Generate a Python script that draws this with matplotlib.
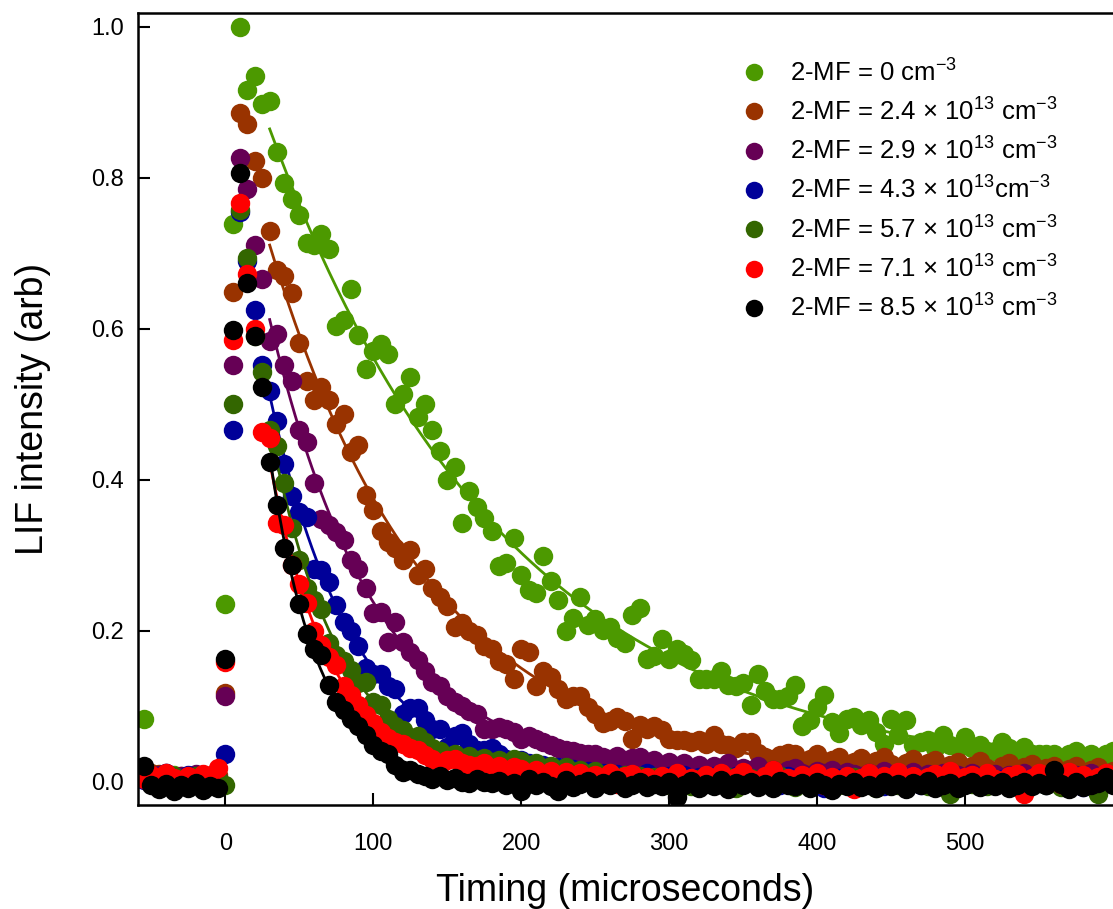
import numpy as np
import matplotlib
matplotlib.use("Agg")
import matplotlib.pyplot as plt

plt.rcParams['font.family'] = ['Liberation Sans', 'DejaVu Sans']
plt.rcParams['mathtext.fontset'] = 'custom'
plt.rcParams['mathtext.rm'] = 'Liberation Sans'

# timing axis, microseconds (sampled every 5 us from -55 to 600)
timing = np.arange(-55, 605, 5)

# LIF signal for each 2-MF density (12 values per row = 60 us)
mf_0 = [0.083, 0.004, 0.007, 0.002, 0.009, 0.003, 0.006, 0.001, 0.008, 0.004, 0.002, 0.235,
        0.738, 1.000, 0.916, 0.935, 0.897, 0.902, 0.834, 0.793, 0.771, 0.750, 0.713, 0.711,
        0.725, 0.705, 0.603, 0.612, 0.653, 0.591, 0.547, 0.570, 0.580, 0.566, 0.500, 0.514,
        0.536, 0.483, 0.500, 0.466, 0.438, 0.400, 0.417, 0.342, 0.385, 0.364, 0.349, 0.332,
        0.285, 0.289, 0.322, 0.274, 0.254, 0.250, 0.299, 0.266, 0.241, 0.199, 0.217, 0.244,
        0.208, 0.215, 0.201, 0.205, 0.190, 0.183, 0.221, 0.230, 0.163, 0.167, 0.189, 0.163,
        0.176, 0.169, 0.161, 0.136, 0.136, 0.136, 0.146, 0.128, 0.126, 0.130, 0.102, 0.142,
        0.120, 0.109, 0.109, 0.113, 0.128, 0.073, 0.082, 0.099, 0.115, 0.079, 0.064, 0.083,
        0.086, 0.075, 0.082, 0.066, 0.050, 0.083, 0.062, 0.081, 0.049, 0.053, 0.055, 0.044,
        0.062, 0.049, 0.044, 0.059, 0.044, 0.049, 0.040, 0.040, 0.053, 0.044, 0.034, 0.046,
        0.037, 0.037, 0.036, 0.037, 0.030, 0.036, 0.040, 0.032, 0.036, -0.013, 0.036, 0.040]

mf_24 = [0.004, 0.012, 0.010, 0.006, 0.003, 0.008, 0.005, 0.002, 0.007, 0.004, 0.009, 0.118,
         0.648, 0.886, 0.871, 0.822, 0.800, 0.729, 0.677, 0.670, 0.647, 0.581, 0.531, 0.506,
         0.522, 0.505, 0.474, 0.487, 0.436, 0.446, 0.379, 0.360, 0.332, 0.318, 0.310, 0.294,
         0.307, 0.274, 0.281, 0.256, 0.245, 0.232, 0.205, 0.210, 0.199, 0.194, 0.179, 0.175,
         0.160, 0.156, 0.136, 0.175, 0.172, 0.126, 0.146, 0.139, 0.122, 0.109, 0.113, 0.113,
         0.099, 0.090, 0.077, 0.080, 0.085, 0.080, 0.056, 0.075, 0.070, 0.073, 0.068, 0.057,
         0.055, 0.055, 0.052, 0.055, 0.050, 0.062, 0.050, 0.048, 0.045, 0.052, 0.053, 0.038,
         0.033, 0.030, 0.035, 0.038, 0.037, 0.025, 0.030, 0.036, 0.024, 0.028, 0.033, 0.022,
         0.026, 0.031, 0.020, 0.027, 0.033, 0.023, 0.019, 0.025, 0.030, 0.018, 0.024, 0.028,
         0.017, 0.022, 0.026, 0.015, 0.021, 0.027, 0.018, 0.014, 0.020, 0.024, 0.016, 0.019,
         0.023, 0.013, 0.018, 0.021, 0.012, 0.017, 0.020, 0.011, 0.016, 0.019, 0.010, 0.014]

mf_29 = [0.006, 0.003, 0.009, 0.012, 0.004, 0.007, 0.002, 0.010, 0.005, 0.008, 0.003, 0.113,
         0.552, 0.826, 0.785, 0.711, 0.666, 0.583, 0.593, 0.552, 0.530, 0.466, 0.450, 0.395,
         0.348, 0.340, 0.331, 0.320, 0.294, 0.281, 0.256, 0.223, 0.225, 0.185, 0.212, 0.185,
         0.172, 0.161, 0.146, 0.132, 0.126, 0.113, 0.106, 0.100, 0.093, 0.089, 0.069, 0.069,
         0.072, 0.070, 0.066, 0.057, 0.060, 0.057, 0.052, 0.049, 0.045, 0.042, 0.040, 0.038,
         0.036, 0.036, 0.033, 0.030, 0.034, 0.028, 0.031, 0.033, 0.025, 0.029, 0.022, 0.026,
         0.020, 0.024, 0.018, 0.022, 0.015, 0.021, 0.017, 0.024, 0.012, 0.018, 0.015, 0.020,
         0.013, 0.016, 0.010, 0.015, 0.018, 0.012, 0.009, 0.014, 0.011, 0.016, 0.008, 0.013,
         0.010, 0.007, 0.012, 0.009, 0.014, 0.006, 0.011, 0.008, 0.013, 0.005, 0.010, 0.007,
         0.012, 0.006, 0.009, 0.004, 0.011, 0.008, 0.005, 0.010, 0.003, 0.009, 0.007, 0.012,
         0.004, 0.008, 0.006, 0.010, 0.002, 0.007, 0.009, 0.005, 0.011, 0.003, 0.008, 0.006]

mf_43 = [0.002, 0.008, 0.004, 0.011, 0.006, 0.003, 0.009, 0.005, 0.001, 0.007, 0.004, 0.037,
         0.466, 0.755, 0.690, 0.625, 0.552, 0.517, 0.477, 0.421, 0.378, 0.357, 0.350, 0.282,
         0.280, 0.265, 0.234, 0.212, 0.199, 0.179, 0.150, 0.143, 0.143, 0.126, 0.122, 0.090,
         0.097, 0.097, 0.082, 0.069, 0.069, 0.046, 0.060, 0.064, 0.050, 0.042, 0.042, 0.044,
         0.036, 0.030, 0.026, 0.029, 0.024, 0.020, 0.022, 0.016, 0.019, 0.013, 0.017, 0.011,
         0.014, 0.008, 0.012, 0.006, 0.010, 0.004, 0.009, 0.002, 0.011, 0.005, -0.003, 0.007,
         0.003, 0.009, -0.002, 0.006, 0.001, 0.008, 0.004, -0.004, 0.007, 0.002, 0.005, -0.001,
         0.006, 0.003, -0.005, 0.008, 0.001, 0.004, -0.002, 0.007, -0.008, 0.003, 0.005, 0.000,
         0.004, -0.003, 0.006, 0.001, -0.006, 0.005, 0.002, -0.001, 0.007, -0.004, 0.003, 0.000,
         0.005, -0.012, 0.002, 0.004, -0.002, 0.006, 0.001, -0.005, 0.003, 0.000, 0.005, -0.003,
         0.002, 0.004, -0.004, 0.001, 0.006, -0.002, 0.003, -0.007, 0.002, -0.009, 0.004, 0.001]

mf_57 = [0.005, 0.001, 0.006, 0.003, 0.008, 0.002, 0.004, 0.007, 0.000, 0.005, 0.003, -0.005,
         0.500, 0.757, 0.693, 0.590, 0.543, 0.466, 0.445, 0.395, 0.336, 0.294, 0.256, 0.240,
         0.228, 0.183, 0.168, 0.160, 0.148, 0.130, 0.132, 0.106, 0.102, 0.083, 0.073, 0.068,
         0.057, 0.060, 0.052, 0.044, 0.040, 0.033, 0.036, 0.030, 0.034, 0.028, 0.031, 0.026,
         0.029, 0.024, 0.030, 0.027, 0.022, 0.025, 0.018, 0.021, 0.016, 0.019, 0.012, 0.015,
         0.010, 0.014, 0.008, 0.011, 0.005, 0.009, 0.002, 0.007, -0.003, 0.006, 0.003, -0.004,
         0.005, 0.001, -0.006, 0.004, 0.008, -0.002, 0.003, 0.006, -0.009, 0.002, 0.005, -0.001,
         0.004, -0.003, 0.007, 0.001, -0.007, 0.003, 0.006, -0.002, 0.002, 0.005, -0.005, 0.001,
         0.006, -0.001, 0.003, -0.008, 0.004, 0.001, -0.004, 0.005, 0.000, 0.003, -0.006, 0.002,
         0.004, -0.017, 0.001, 0.005, -0.003, 0.002, -0.006, 0.004, 0.000, -0.002, 0.003, -0.005,
         0.002, 0.005, -0.004, 0.001, -0.007, 0.003, 0.000, -0.003, 0.004, -0.017, 0.001, -0.002]

mf_71 = [0.003, 0.009, 0.002, 0.011, 0.005, 0.000, 0.008, 0.004, 0.010, 0.006, 0.018, 0.158,
         0.585, 0.766, 0.672, 0.600, 0.463, 0.455, 0.342, 0.340, 0.287, 0.262, 0.236, 0.200,
         0.181, 0.165, 0.155, 0.126, 0.115, 0.102, 0.088, 0.077, 0.066, 0.058, 0.053, 0.050,
         0.044, 0.042, 0.035, 0.030, 0.009, 0.028, 0.030, 0.025, 0.022, 0.020, 0.024, 0.018,
         0.020, 0.015, 0.019, 0.017, 0.012, 0.016, 0.010, 0.014, 0.008, 0.013, 0.006, 0.011,
         0.004, 0.009, 0.002, 0.012, -0.003, 0.007, 0.010, 0.001, 0.006, -0.002, 0.008, 0.003,
         0.012, 0.000, 0.005, -0.006, 0.009, 0.002, 0.011, -0.001, 0.006, 0.013, 0.003, -0.004,
         0.007, 0.015, 0.001, 0.005, -0.002, 0.009, 0.004, 0.012, -0.005, 0.006, 0.002, 0.008,
         -0.010, 0.005, 0.011, 0.001, 0.007, -0.003, 0.013, 0.004, 0.008, -0.001, 0.006, 0.010,
         0.002, 0.014, -0.004, 0.006, 0.009, 0.001, 0.012, 0.003, -0.002, 0.007, 0.010, -0.016,
         0.005, 0.011, 0.002, 0.008, -0.003, 0.013, 0.004, 0.009, 0.001, 0.006, 0.012, 0.003]

mf_85 = [0.021, -0.005, -0.010, -0.003, -0.012, -0.004, -0.009, -0.002, -0.011, -0.006, -0.008, 0.162,
         0.598, 0.806, 0.660, 0.590, 0.522, 0.423, 0.367, 0.309, 0.287, 0.235, 0.195, 0.175,
         0.168, 0.128, 0.106, 0.095, 0.083, 0.073, 0.062, 0.049, 0.040, 0.036, 0.022, 0.013,
         0.015, 0.010, 0.007, 0.004, 0.007, 0.002, 0.005, 0.000, -0.002, 0.003, -0.001, -0.002,
         0.001, -0.004, -0.002, -0.013, 0.003, -0.005, 0.000, -0.006, -0.013, 0.002, -0.007, -0.003,
         0.001, -0.008, -0.002, -0.005, 0.002, -0.009, -0.004, 0.000, -0.007, -0.003, -0.006, -0.001,
         -0.020, -0.004, 0.001, -0.008, -0.003, -0.006, 0.002, -0.010, -0.002, -0.005, 0.000, -0.007,
         -0.003, -0.009, 0.001, -0.004, -0.006, -0.002, -0.008, 0.000, -0.005, -0.011, -0.003, -0.006,
         0.000, -0.007, -0.004, -0.009, -0.001, -0.006, -0.003, -0.010, -0.002, -0.005, 0.001, -0.008,
         -0.004, -0.002, -0.009, -0.005, 0.000, -0.007, -0.003, -0.006, -0.001, -0.008, -0.004, 0.000,
         -0.006, -0.002, -0.005, 0.016, -0.003, -0.010, -0.001, -0.007, -0.004, -0.002, 0.006, -0.005]

series = [mf_0, mf_24, mf_29, mf_43, mf_57, mf_71, mf_85]
colors = ['#4c9900', '#993300', '#660055', '#000099', '#336600', '#ff0000', '#000000']
labels = [r'2-MF = 0 cm$\mathregular{^{-3}}$',
          r'2-MF = 2.4 × 10$\mathregular{^{13}}$ cm$\mathregular{^{-3}}$',
          r'2-MF = 2.9 × 10$\mathregular{^{13}}$ cm$\mathregular{^{-3}}$',
          r'2-MF = 4.3 × 10$\mathregular{^{13}}$cm$\mathregular{^{-3}}$',
          r'2-MF = 5.7 × 10$\mathregular{^{13}}$ cm$\mathregular{^{-3}}$',
          r'2-MF = 7.1 × 10$\mathregular{^{13}}$ cm$\mathregular{^{-3}}$',
          r'2-MF = 8.5 × 10$\mathregular{^{13}}$ cm$\mathregular{^{-3}}$']

fit_start = 30


def fit_decay(t, y):
    # single exponential A*exp(-t/tau), least squares over a grid of tau
    m = t >= fit_start
    tt, yy = t[m], y[m]
    best = None
    for tau in np.linspace(10, 400, 1951):
        e = np.exp(-tt / tau)
        a = (e @ yy) / (e @ e)
        r = ((yy - a * e) ** 2).sum()
        if best is None or r < best[0]:
            best = (r, a, tau)
    return best[1], best[2]


fig = plt.figure(figsize=(11.13, 9.09), dpi=100)
ax = fig.add_axes([138 / 1113, 1 - 805 / 909, 1 - 138 / 1113, (805 - 13) / 909])

t_line = np.linspace(fit_start, 600, 400)
for y, c, lab in zip(series, colors, labels):
    y = np.array(y)
    ax.plot(timing, y, 'o', color=c, markersize=14, markeredgewidth=0, label=lab)
    a, tau = fit_decay(timing, y)
    ax.plot(t_line, a * np.exp(-t_line / tau), '-', color=c, linewidth=2)

ax.set_xlim(-59, 600)
ax.set_ylim(-0.031, 1.018)
ax.set_xticks([0, 100, 200, 300, 400, 500])
ax.set_yticks([0.0, 0.2, 0.4, 0.6, 0.8, 1.0])
ax.set_yticklabels(['0.0', '0.2', '0.4', '0.6', '0.8', '1.0'])
ax.tick_params(direction='in', length=8.5, width=1.5, labelsize=17)
ax.tick_params(axis='y', pad=10)
ax.tick_params(axis='x', pad=20)
ax.spines['right'].set_visible(False)
for s in ['left', 'bottom', 'top']:
    ax.spines[s].set_linewidth(1.8)

ax.set_xlabel('Timing (microseconds)', fontsize=27, labelpad=13)
ax.set_ylabel('LIF intensity (arb)', fontsize=27, labelpad=29)

ax.legend(loc='upper left', bbox_to_anchor=(0.619, 0.942), frameon=False,
          fontsize=18.5, handlelength=1.0, handletextpad=0.87, labelspacing=0.47,
          borderpad=0, borderaxespad=0, markerscale=0.9)

fig.savefig('out.png', dpi=100)
